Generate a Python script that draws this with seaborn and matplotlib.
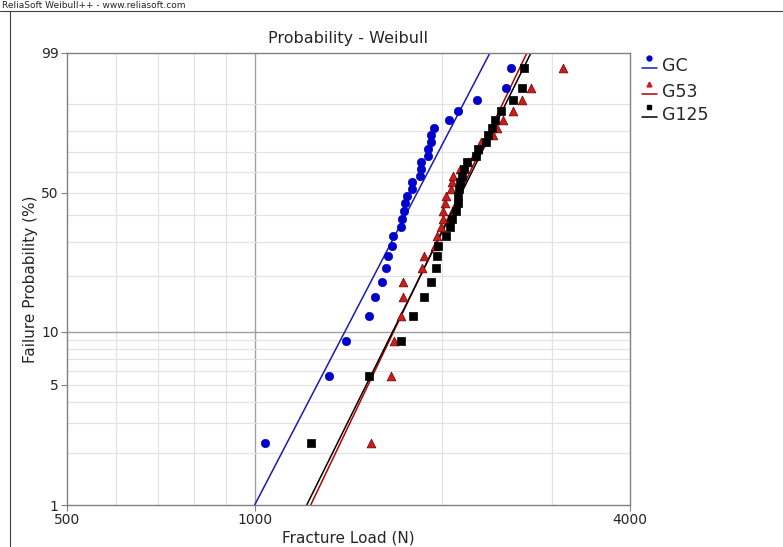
import matplotlib
matplotlib.use("Agg")
import matplotlib.pyplot as plt
from matplotlib.lines import Line2D
import seaborn as sns
import numpy as np
import pandas as pd

# median-rank failure probabilities (%), 30 specimens per group
failure_prob = [2.30, 5.59, 8.88, 12.17, 15.46, 18.75, 22.04, 25.33, 28.62, 31.91,
                35.20, 38.49, 41.78, 45.07, 48.36, 51.64, 54.93, 58.22, 61.51, 64.80,
                68.09, 71.38, 74.67, 77.96, 81.25, 84.54, 87.83, 91.12, 94.41, 97.70]

load_gc = [1038, 1315, 1400, 1524, 1558, 1599, 1623, 1635, 1660, 1666,
           1716, 1722, 1735, 1740, 1754, 1787, 1790, 1840, 1847, 1850,
           1896, 1900, 1917, 1920, 1938, 2049, 2118, 2272, 2529, 2576]
load_g53 = [1535, 1653, 1672, 1716, 1728, 1730, 1854, 1868, 1945, 1960,
            1989, 2004, 2006, 2019, 2026, 2064, 2072, 2079, 2134, 2198,
            2247, 2281, 2306, 2411, 2446, 2501, 2595, 2683, 2774, 3122]
load_g125 = [1230, 1524, 1716, 1793, 1868, 1917, 1953, 1960, 1967, 2026,
             2056, 2072, 2102, 2118, 2120, 2126, 2134, 2150, 2166, 2190,
             2264, 2281, 2349, 2366, 2402, 2428, 2483, 2595, 2683, 2703]

# fitted Weibull lines: load at 1% and 99% unreliability
fit_prob = [1, 99]
fit_gc = [1000, 2384]
fit_g53 = [1230, 2733]
fit_g125 = [1212, 2774]

groups = ["GC", "G53", "G125"]
colors = {"GC": "#0000cc", "G53": "#c81e1e", "G125": "#000000"}
line_colors = {"GC": "#1a1ab4", "G53": "#b40000", "G125": "#000000"}
markers = {"GC": "o", "G53": "^", "G125": "s"}

pts = pd.DataFrame({
    "load": load_gc + load_g53 + load_g125,
    "prob": failure_prob * 3,
    "group": ["GC"] * 30 + ["G53"] * 30 + ["G125"] * 30,
})
fits = pd.DataFrame({
    "load": fit_gc + fit_g53 + fit_g125,
    "prob": fit_prob * 3,
    "group": ["GC"] * 2 + ["G53"] * 2 + ["G125"] * 2,
})


def weib_fwd(p):
    p = np.clip(np.asarray(p, dtype=float), 1e-6, 100 - 1e-6)
    return np.log(-np.log(1 - p / 100.0))


def weib_inv(w):
    w = np.asarray(w, dtype=float)
    return 100.0 * (1 - np.exp(-np.exp(w)))


sns.set_style("white")
plt.rcParams["font.family"] = ["DejaVu Sans"]

fig = plt.figure(figsize=(7.83, 5.47), dpi=100)
ax = fig.add_axes([67 / 783, 42 / 547, 563 / 783, 452 / 547])
ax.set_xscale("log")
ax.set_yscale("function", functions=(weib_fwd, weib_inv))
ax.set_xlim(500, 4000)
ax.set_ylim(1, 99)

# grid
for v in [600, 700, 800, 900, 2000, 3000]:
    ax.axvline(v, color="#e3e3e3", lw=0.9, zorder=0)
ax.axvline(1000, color="#a0a0a0", lw=1.0, zorder=0)
for v in [2, 3, 4, 5, 6, 7, 8, 9, 20, 30, 40, 50, 60, 70, 80, 90]:
    ax.axhline(v, color="#e3e3e3", lw=0.9, zorder=0)
ax.axhline(10, color="#a0a0a0", lw=1.0, zorder=0)

for g in groups:
    sns.lineplot(data=fits[fits.group == g], x="load", y="prob", color=line_colors[g],
                 lw=1.1, ax=ax, legend=False, zorder=2)
for g in groups:
    sub = pts[pts.group == g]
    ec = "#6e0000" if g == "G53" else colors[g]
    sns.scatterplot(data=sub, x="load", y="prob", marker=markers[g], color=colors[g],
                    edgecolor=ec, linewidth=0.5, s=36 if g != "G53" else 40,
                    ax=ax, legend=False, zorder=3)

ax.set_xticks([500, 1000, 4000])
ax.set_xticklabels(["500", "1000", "4000"])
ax.xaxis.set_minor_locator(matplotlib.ticker.NullLocator())
ax.set_yticks([1, 5, 10, 50, 99])
ax.set_yticklabels(["1", "5", "10", "50", "99"])
ax.yaxis.set_minor_locator(matplotlib.ticker.NullLocator())
ax.tick_params(axis="both", direction="out", length=4, width=0.8, color="#808080",
               labelsize=10, pad=2, left=True, bottom=True)
for s in ax.spines.values():
    s.set_color("#808080")
    s.set_linewidth(1.0)

ax.set_xlabel("Fracture Load (N)", fontsize=11, labelpad=2)
ax.set_ylabel("Failure Probability (%)", fontsize=11, labelpad=2)
ax.set_title("Probability - Weibull", fontsize=11.5, pad=7)

# legend drawn as in the original: small marker above a short line
leg_y = [66, 92, 115]
for g, yy in zip(groups, leg_y):
    yf = 1 - yy / 547
    fig.add_artist(Line2D([642 / 783, 657 / 783], [yf - 2 / 547] * 2, color=line_colors[g],
                          lw=1.1, transform=fig.transFigure))
    fig.add_artist(Line2D([649 / 783], [yf + 8 / 547], marker=markers[g], ms=3.5,
                          color=colors[g], lw=0, transform=fig.transFigure))
    fig.text(662 / 783, yf, g, fontsize=12.5, va="center", ha="left")

# header strip
fig.text(2 / 783, 1 - 1 / 547, "ReliaSoft Weibull++ - www.reliasoft.com", fontsize=6.5,
         va="top", ha="left")
fig.add_artist(Line2D([0, 1], [1 - 11 / 547] * 2, color="#404040", lw=0.8,
                      transform=fig.transFigure))
fig.add_artist(Line2D([10 / 783] * 2, [0, 1 - 11 / 547], color="#404040", lw=0.8,
                      transform=fig.transFigure))

fig.savefig("out.png", dpi=100)
